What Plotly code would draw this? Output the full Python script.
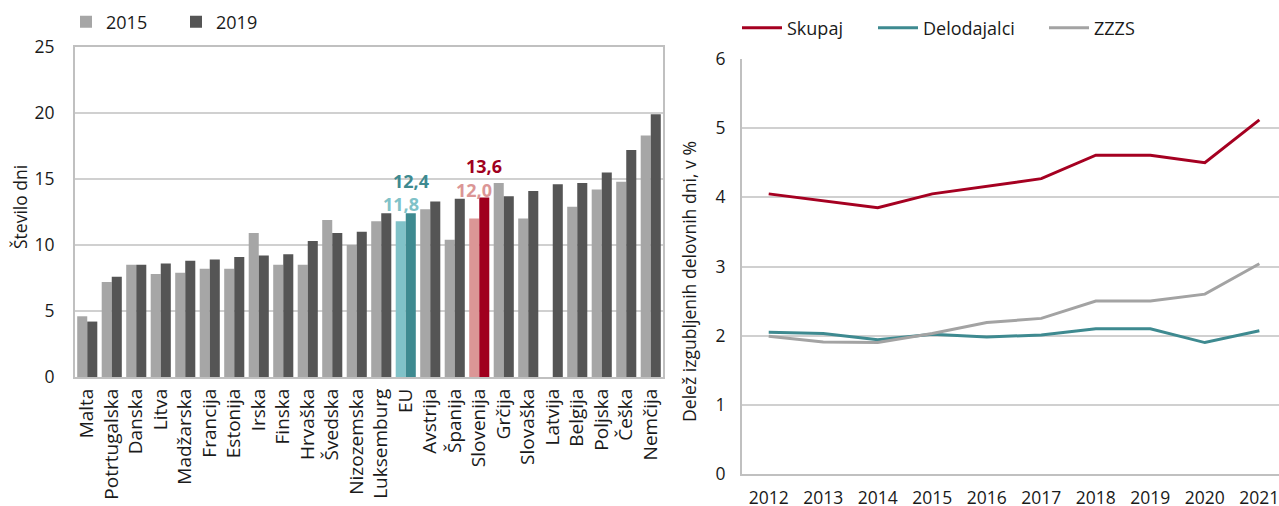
import plotly.graph_objects as go

# ---------------- data ----------------
countries = ["Malta", "Potrtugalska", "Danska", "Litva", "Madžarska", "Francija", "Estonija",
             "Irska", "Finska", "Hrvaška", "Švedska", "Nizozemska", "Luksemburg", "EU",
             "Avstrija", "Španija", "Slovenija", "Grčija", "Slovaška", "Latvija", "Belgija",
             "Poljska", "Češka", "Nemčija"]
days_2015 = [4.6, 7.2, 8.5, 7.8, 7.9, 8.2, 8.2, 10.9, 8.5, 8.5, 11.9, 10.0, 11.8, 11.8,
             12.7, 10.4, 12.0, 14.7, 12.0, None, 12.9, 14.2, 14.8, 18.3]
days_2019 = [4.2, 7.6, 8.5, 8.6, 8.8, 8.9, 9.1, 9.2, 9.3, 10.3, 10.9, 11.0, 12.4, 12.4,
             13.3, 13.5, 13.6, 13.7, 14.1, 14.6, 14.7, 15.5, 17.2, 19.9]

years = [2012, 2013, 2014, 2015, 2016, 2017, 2018, 2019, 2020, 2021]
skupaj = [4.05, 3.95, 3.85, 4.05, 4.16, 4.27, 4.61, 4.61, 4.50, 5.12]
delodajalci = [2.05, 2.03, 1.94, 2.02, 1.98, 2.01, 2.10, 2.10, 1.90, 2.07]
zzzs = [1.99, 1.91, 1.90, 2.03, 2.19, 2.25, 2.50, 2.50, 2.60, 3.04]

left_ticks = [0, 5, 10, 15, 20, 25]
right_ticks = [0, 1, 2, 3, 4, 5, 6]

# ---------------- styles ----------------
FONT = "Open Sans"
TXT = "#1a1a1a"
GRID = "#D0D0D0"
AXL = "#C0C0C0"
C15 = "#A6A6A6"
C19 = "#555555"
EU15, EU19 = "#80C2C8", "#3E8A90"
SI15, SI19 = "#DB9696", "#A0001E"
RED = "#A50021"
TEAL = "#3E8A90"
GRAY = "#A3A3A3"

# body margin is removed by post_script, so the figure fills the window
W, H = 1279, 506


def PX(x):
    return x / W


def PY(y):
    return 1 - y / H


col15 = [EU15 if c == "EU" else SI15 if c == "Slovenija" else C15 for c in countries]
col19 = [EU19 if c == "EU" else SI19 if c == "Slovenija" else C19 for c in countries]

fig = go.Figure()
fig.add_trace(go.Bar(x=countries, y=days_2015, name="2015", marker=dict(color=col15, line=dict(width=0)),
                     xaxis="x", yaxis="y", legend="legend"))
fig.add_trace(go.Bar(x=countries, y=days_2019, name="2019", marker=dict(color=col19, line=dict(width=0)),
                     xaxis="x", yaxis="y", legend="legend2"))

fig.add_trace(go.Scatter(x=years, y=skupaj, name="Skupaj", mode="lines",
                         line=dict(color=RED, width=3), xaxis="x2", yaxis="y2", legend="legend3"))
fig.add_trace(go.Scatter(x=years, y=delodajalci, name="Delodajalci", mode="lines",
                         line=dict(color=TEAL, width=3), xaxis="x2", yaxis="y2", legend="legend4"))
fig.add_trace(go.Scatter(x=years, y=zzzs, name="ZZZS", mode="lines",
                         line=dict(color=GRAY, width=3), xaxis="x2", yaxis="y2", legend="legend5"))


# data labels for EU and Slovenija
def lab(v):
    return f"{v:.1f}".replace(".", ",")


i_eu = countries.index("EU")
i_si = countries.index("Slovenija")
labels = [
    (countries[i_eu], days_2015[i_eu], -5, 17, EU15),
    (countries[i_eu], days_2019[i_eu], 5, 32, EU19),
    (countries[i_si], days_2015[i_si], -5, 29, SI15),
    (countries[i_si], days_2019[i_si], 5, 31, SI19),
]
for cx, v, xs, ys, c in labels:
    fig.add_annotation(x=cx, y=v, xref="x", yref="y", text=f"<b>{lab(v)}</b>", showarrow=False,
                       xshift=xs, yshift=ys, font=dict(family=FONT, size=18, color=c))

# axis titles
fig.add_annotation(x=PX(20), y=PY(207), xref="paper", yref="paper", text="Število dni",
                   textangle=-90, showarrow=False, font=dict(family=FONT, size=17.5, color=TXT),
                   xanchor="center", yanchor="middle")
fig.add_annotation(x=PX(689), y=PY(282), xref="paper", yref="paper",
                   text="Delež izgubljenih delovnih dni, v %",
                   textangle=-90, showarrow=False, font=dict(family=FONT, size=17.6, color=TXT),
                   xanchor="center", yanchor="middle")

ytickfont = dict(family=FONT, size=17.5, color=TXT)
cattickfont = dict(family=FONT, size=19, color=TXT)
yeartickfont = dict(family=FONT, size=17.5, color=TXT)
legfont = dict(family=FONT, size=18, color=TXT)


def leg(xpx, ypx, iw=30):
    return dict(x=PX(xpx), y=PY(ypx), xanchor="left", yanchor="middle",
                orientation="h", font=legfont, bgcolor="rgba(0,0,0,0)", borderwidth=0,
                itemwidth=iw, itemclick=False, itemdoubleclick=False)


fig.update_layout(
    width=W, height=H,
    margin=dict(l=0, r=0, t=0, b=0, autoexpand=False),
    paper_bgcolor="white", plot_bgcolor="white",
    barmode="group", bargap=0.18, bargroupgap=0,
    showlegend=True,
    font=dict(family=FONT, color=TXT),
    xaxis=dict(domain=[PX(75), PX(663)], anchor="y", tickangle=-90, tickfont=cattickfont,
               showline=True, linecolor=AXL, linewidth=2, mirror=True, ticks="",
               ticklabelstandoff=2, showgrid=False, automargin=False),
    yaxis=dict(domain=[PY(377), PY(47)], anchor="x", range=[0, 25],
               tickvals=left_ticks, tickfont=ytickfont, showgrid=True, gridcolor=GRID, gridwidth=1.5,
               showline=True, linecolor=AXL, linewidth=2, mirror=True, ticks="",
               ticklabelstandoff=15, zeroline=False, automargin=False),
    xaxis2=dict(domain=[PX(742), 1.0], anchor="y2", range=[2011.51, 2021.36], tickvals=years,
                tickfont=yeartickfont, showline=True, linecolor=AXL, linewidth=2, ticks="",
                showgrid=False, zeroline=False, ticklabelstandoff=7, automargin=False,
                ticklabeloverflow="allow"),
    yaxis2=dict(domain=[PY(474), PY(59)], anchor="x2", range=[0, 6],
                tickvals=right_ticks, tickfont=ytickfont, showgrid=True, gridcolor=GRID, gridwidth=1.5,
                showline=True, linecolor=AXL, linewidth=2, ticks="", zeroline=False,
                ticklabelstandoff=11, automargin=False),
    legend=leg(66, 22),
    legend2=leg(176, 22),
    legend3=leg(737, 28, 40),
    legend4=leg(873, 28, 40),
    legend5=leg(1044, 28, 40),
)

fig.write_html("out.html", config={"displayModeBar": False},
               post_script="document.body.style.margin='0';document.body.style.overflow='hidden';")
